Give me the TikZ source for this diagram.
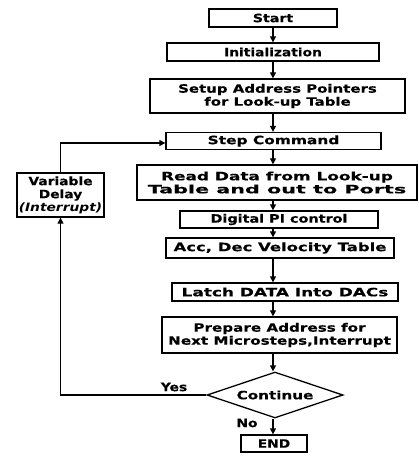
\documentclass[tikz,border=0pt]{standalone}
\usepackage{fontspec}
\setmainfont{DejaVu Sans}[BoldFeatures={FakeBold=0.3}]
\usetikzlibrary{arrows.meta,shapes.geometric}
\newcommand\boxfont{\fontsize{11.5}{13}\selectfont\bfseries}
\newcommand\stretchto[1]{\addfontfeature{FakeStretch=#1}}
\begin{document}
\begin{tikzpicture}[x=1pt,y=-1pt,
  box/.style={draw, line width=1.3pt, inner sep=0pt, align=center, font=\boxfont\stretchto{1.2}},
  wide/.style={font=\boxfont\stretchto{#1}},
  arr/.style={line width=1.3pt, -{Triangle[length=6pt,width=6pt]}},
  lbl/.style={font=\boxfont\stretchto{1.2}, inner sep=0pt}]
\useasboundingbox (0,0) rectangle (418,457);

% main column of steps
\node[box, wide=1.23, minimum width=128pt, minimum height=18pt] (start) at (273,18) {Start};
\node[box, wide=1.2, minimum width=212pt, minimum height=18pt] (init) at (273,52) {Initialization};
\node[box, wide=1.3, minimum width=255pt, minimum height=34pt] (setup) at (277.5,96) {Setup Address Pointers\\for Look-up Table};
\node[box, wide=1.34, minimum width=215pt, minimum height=17pt] (step) at (273.5,141) {Step Command};
\node[box, minimum width=280pt, minimum height=35pt] (read) at (277,182.5)
  {{\stretchto{1.47}Read Data from Look-up}\\{\stretchto{1.8}Table and out to Ports}};
\node[box, wide=1.25, minimum width=198pt, minimum height=17pt] (pi) at (279,219.5) {Digital PI control};
\node[box, wide=1.43, minimum width=228pt, minimum height=20pt] (acc) at (280,248) {Acc, Dec Velocity Table};
\node[box, wide=1.47, minimum width=226pt, minimum height=18pt] (latch) at (285,292) {Latch DATA Into DACs};
\node[box, wide=1.32, minimum width=235pt, minimum height=36pt] (prep) at (279.5,335) {Prepare Address for\\Next Microsteps,Interrupt};
\node[box, wide=1.32, diamond, aspect=2.96, minimum width=136pt, minimum height=46pt] (cont) at (275,395) {Continue};
\node[box, wide=1.2, minimum width=66pt, minimum height=17pt] (end) at (274,443.5) {END};

% delay block on the return path
\node[box, wide=1.2, minimum width=87pt, minimum height=44pt] (delay) at (60.5,195) {Variable\\Delay\\{\itshape (Interrupt)}};

\node[lbl] (yes) at (174,387) {Yes};
\node[lbl] (no) at (247,423) {No};

% vertical spine of the flow
\coordinate (spine) at (273,0);
\draw[arr] (start.south -| spine) -- (init.north -| spine);
\draw[arr] (init.south -| spine) -- (setup.north -| spine);
\draw[arr] (setup.south -| spine) -- (step.north -| spine);
\draw[arr] (step.south -| spine) -- (read.north -| spine);
\draw[arr] (read.south -| spine) -- (pi.north -| spine);
\draw[arr] (pi.south -| spine) -- (acc.north -| spine);
\draw[arr] (acc.south -| spine) -- (latch.north -| spine);
\draw[arr] (latch.south -| spine) -- (prep.north -| spine);
\draw[arr] (prep.south -| spine) -- (cont.north -| spine);
\draw[arr] (cont.south -| spine) -- (end.north -| spine);

% return loop
\draw[arr] (cont.west) -| (delay.south);
\draw[arr] (delay.north) |- ([yshift=-2pt]step.west);
\end{tikzpicture}
\end{document}
